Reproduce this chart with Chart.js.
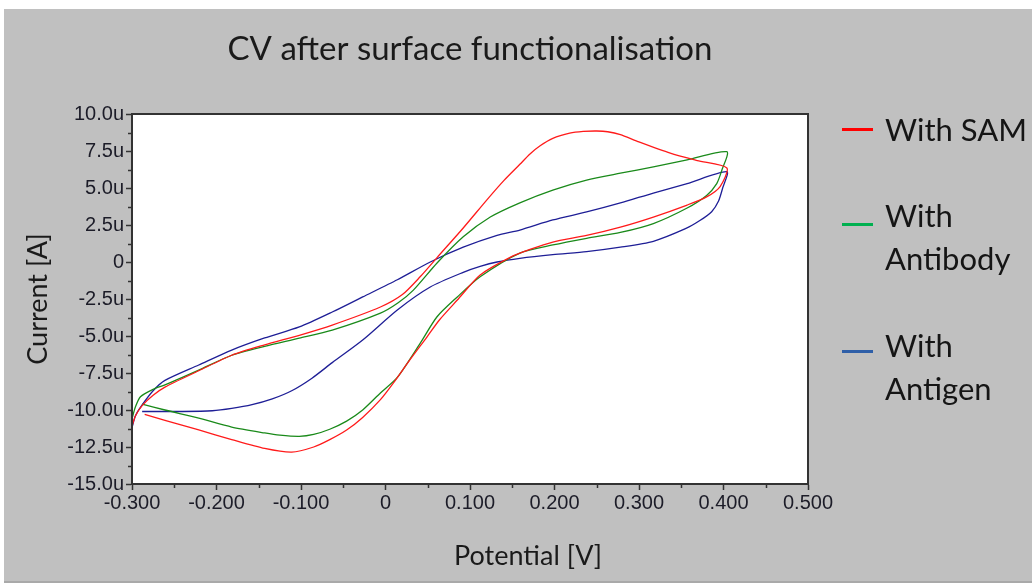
<!DOCTYPE html>
<html>
<head>
<meta charset="utf-8">
<title>CV after surface functionalisation</title>
<script src="https://cdn.jsdelivr.net/npm/chart.js@4.4.1/dist/chart.umd.min.js"></script>
<style>
	html, body { margin: 0; padding: 0; background: #ffffff; }
	.panel { position: absolute; left: 4px; top: 9px; width: 1028px; height: 572px; background: #c0c0c0; border-bottom: 2px solid #a9a9a9; }
	#cvChart { position: absolute; left: 0; top: 0; }
	.legend-key { position: absolute; left: 838px; width: 31px; height: 3px; }
	.legend-text { position: absolute; left: 881px; font-family: Lato, sans-serif; font-size: 31px; line-height: 43px; color: #151515; white-space: nowrap; }
	.x-title { position: absolute; left: 374px; width: 300px; top: 529px; text-align: center; font-family: Lato, sans-serif; font-size: 27px; line-height: 34px; color: #1a1a1a; }
</style>
</head>
<body>
<div class="panel">
	<canvas id="cvChart" width="1028" height="573"></canvas>
	<div class="legend-key" style="top: 119px; background: #ff0000;"></div>
	<div class="legend-text" style="top: 99px;">With SAM</div>
	<div class="legend-key" style="top: 214px; background: #00b050;"></div>
	<div class="legend-text" style="top: 185px;">With<br>Antibody</div>
	<div class="legend-key" style="top: 341px; background: #2f5fa8;"></div>
	<div class="legend-text" style="top: 315px;">With<br>Antigen</div>
	<div class="x-title">Potential [V]</div>
</div>
<script>
"use strict";

/********/
/* data */
/********/
// potential [V] and current [uA], forward sweep from -0.3 V to the vertex, then back
const samV = [-0.300, -0.296, -0.288, -0.275, -0.261, -0.221, -0.182, -0.143, -0.102, -0.063, -0.006, 0.020, 0.041, 0.061, 0.092, 0.120, 0.140, 0.159, 0.171, 0.183, 0.198, 0.218, 0.234, 0.250, 0.263, 0.278, 0.298, 0.337, 0.369, 0.404,
	0.396, 0.380, 0.357, 0.317, 0.278, 0.238, 0.198, 0.171, 0.147, 0.112, 0.085, 0.064, 0.049, 0.029, 0.009, -0.006, -0.027, -0.046, -0.066, -0.085, -0.111, -0.143, -0.182, -0.221, -0.261, -0.285];
const samI = [-11.1, -10.4, -9.7, -9.0, -8.45, -7.35, -6.3, -5.6, -4.95, -4.26, -3.04, -2.2, -1.0, 0.3, 2.3, 4.2, 5.5, 6.6, 7.3, 7.85, 8.35, 8.7, 8.82, 8.85, 8.8, 8.6, 8.15, 7.35, 6.85, 6.35,
	5.1, 4.4, 3.85, 3.04, 2.36, 1.8, 1.35, 0.85, 0.3, -0.88, -2.57, -3.9, -5.07, -6.6, -8.2, -9.3, -10.5, -11.35, -12.0, -12.5, -12.85, -12.6, -12.0, -11.35, -10.7, -10.3];

const antibodyV = [-0.300, -0.296, -0.290, -0.275, -0.261, -0.221, -0.182, -0.143, -0.102, -0.063, -0.006, 0.015, 0.033, 0.061, 0.092, 0.124, 0.159, 0.198, 0.238, 0.278, 0.317, 0.357, 0.404,
	0.398, 0.392, 0.380, 0.357, 0.317, 0.278, 0.238, 0.198, 0.159, 0.112, 0.085, 0.061, 0.041, 0.014, -0.006, -0.027, -0.046, -0.066, -0.085, -0.102, -0.125, -0.143, -0.182, -0.221, -0.261, -0.288];
const antibodyI = [-10.6, -9.8, -9.1, -8.6, -8.3, -7.3, -6.3, -5.7, -5.15, -4.6, -3.45, -2.75, -1.9, -0.07, 1.7, 3.04, 4.0, 4.86, 5.54, 6.0, 6.42, 6.9, 7.45,
	6.2, 5.3, 4.5, 3.65, 2.6, 2.0, 1.6, 1.15, 0.6, -1.0, -2.36, -3.7, -5.5, -7.8, -8.85, -10.0, -10.75, -11.3, -11.65, -11.78, -11.7, -11.55, -11.15, -10.55, -10.0, -9.6];

const antigenV = [-0.300, -0.296, -0.288, -0.275, -0.261, -0.221, -0.182, -0.143, -0.102, -0.063, -0.027, 0.014, 0.053, 0.092, 0.132, 0.159, 0.198, 0.238, 0.278, 0.317, 0.357, 0.404,
	0.399, 0.394, 0.386, 0.372, 0.355, 0.317, 0.278, 0.238, 0.198, 0.159, 0.132, 0.112, 0.092, 0.053, 0.014, -0.027, -0.063, -0.087, -0.111, -0.134, -0.158, -0.182, -0.205, -0.240, -0.288];
const antigenI = [-11.2, -10.4, -9.66, -8.7, -8.0, -6.96, -5.95, -5.13, -4.39, -3.38, -2.36, -1.2, 0.0, 1.0, 1.8, 2.16, 2.84, 3.38, 3.99, 4.66, 5.3, 6.1,
	5.0, 4.1, 3.4, 2.8, 2.25, 1.4, 1.0, 0.7, 0.5, 0.25, 0.0, -0.3, -0.7, -1.69, -3.24, -5.27, -6.8, -7.85, -8.7, -9.25, -9.64, -9.89, -10.05, -10.1, -10.1];

// axis ranges and steps (minor ticks every half step)
const potentialRange = [-0.3, 0.5];
const currentRange = [-15, 10];
const potentialStep = 0.05;
const currentStep = 1.25;

/***********/
/* methods */
/***********/
function toPoints(volts, amps) {
	// pair up the potential and current arrays
	return volts.map((v, i) => ({ x: v, y: amps[i] }));
}

function potentialLabel(value) {
	// label every 0.1 V, leave the half steps blank
	const tenths = Math.round(value * 10);
	if (Math.abs(value * 10 - tenths) > 1e-6) {
		return "";
	}
	return tenths === 0 ? "0" : (tenths / 10).toFixed(3);
}

function currentLabel(value) {
	// label every 2.5 uA, leave the half steps blank
	const steps = Math.round(value / 2.5);
	if (Math.abs(value / 2.5 - steps) > 1e-6) {
		return "";
	}
	return steps === 0 ? "0" : (steps * 2.5).toFixed(1) + "u";
}

function majorTickColor(ctx) {
	// minor ticks are drawn shorter by the plugin below
	return ctx.tick && ctx.tick.label === "" ? "rgba(0,0,0,0)" : "#333333";
}

// white plot area with a dark frame, plus the short minor ticks
const plotFrame = {
	id: "plotFrame",
	beforeDraw(chart) {
		const a = chart.chartArea;
		chart.ctx.save();
		chart.ctx.fillStyle = "#ffffff";
		chart.ctx.fillRect(a.left, a.top, a.right - a.left, a.bottom - a.top);
		chart.ctx.restore();
	},
	afterDraw(chart) {
		const ctx = chart.ctx;
		const a = chart.chartArea;
		const xs = chart.scales.x;
		const ys = chart.scales.y;
		ctx.save();
		ctx.strokeStyle = "#333333";
		ctx.lineWidth = 1.5;
		xs.ticks.forEach(tick => {
			if (tick.label !== "") return;
			const px = Math.round(xs.getPixelForValue(tick.value)) + 0.5;
			ctx.beginPath();
			ctx.moveTo(px, a.bottom);
			ctx.lineTo(px, a.bottom + 4);
			ctx.stroke();
		});
		ys.ticks.forEach(tick => {
			if (tick.label !== "") return;
			const py = Math.round(ys.getPixelForValue(tick.value)) + 0.5;
			ctx.beginPath();
			ctx.moveTo(a.left - 4, py);
			ctx.lineTo(a.left, py);
			ctx.stroke();
		});
		ctx.lineWidth = 2;
		ctx.strokeRect(a.left, a.top, a.right - a.left, a.bottom - a.top);
		ctx.restore();
	}
};

function buildChart() {
	const ctx = document.getElementById("cvChart").getContext("2d");
	const tickFont = { family: "'Liberation Sans', Arial, sans-serif", size: 20 };
	return new Chart(ctx, {
		type: "scatter",
		data: {
			datasets: [
				{ label: "With SAM", data: toPoints(samV, samI), borderColor: "#ff1a1a" },
				{ label: "With Antibody", data: toPoints(antibodyV, antibodyI), borderColor: "#1a8a1a" },
				{ label: "With Antigen", data: toPoints(antigenV, antigenI), borderColor: "#1e1e96" }
			].map(ds => Object.assign(ds, {
				showLine: true,
				borderWidth: 1.3,
				pointRadius: 0,
				tension: 0.25,
				fill: false
			}))
		},
		options: {
			responsive: false,
			animation: false,
			layout: { padding: { left: 0, right: 224, top: 0, bottom: 8 } },
			plugins: {
				legend: { display: false },
				tooltip: { enabled: false },
				title: {
					display: true,
					text: "CV after surface functionalisation",
					fullSize: false,
					color: "#1a1a1a",
					font: { family: "Lato, sans-serif", size: 33, weight: "normal", lineHeight: 1.2 },
					padding: { top: 21, bottom: 44.4 }
				}
			},
			scales: {
				x: {
					type: "linear",
					min: potentialRange[0],
					max: potentialRange[1],
					afterFit: scale => { scale.height = 90; },
					border: { display: true, color: "#333333", width: 2 },
					grid: { drawOnChartArea: false, drawTicks: true, tickLength: 6, tickWidth: 1.5, tickColor: majorTickColor },
					ticks: {
						stepSize: potentialStep,
						autoSkip: false,
						maxRotation: 0,
						padding: 1,
						color: "#1c1c28",
						font: tickFont,
						callback: potentialLabel
					},
					title: { display: false }
				},
				y: {
					type: "linear",
					min: currentRange[0],
					max: currentRange[1],
					afterFit: scale => { scale.width = 128; },
					border: { display: true, color: "#333333", width: 2 },
					grid: { drawOnChartArea: false, drawTicks: true, tickLength: 6, tickWidth: 1.5, tickColor: majorTickColor },
					ticks: {
						stepSize: currentStep,
						autoSkip: false,
						padding: 2,
						color: "#1c1c28",
						font: tickFont,
						callback: currentLabel
					},
					title: {
						display: true,
						text: "Current [A]",
						color: "#1a1a1a",
						font: { family: "Lato, sans-serif", size: 27, lineHeight: 1.2 },
						padding: { top: 18, bottom: 0 }
					}
				}
			}
		},
		plugins: [plotFrame]
	});
}

/********/
/* MAIN */
/********/
(function main() {
	buildChart();
})();
</script>
</body>
</html>
